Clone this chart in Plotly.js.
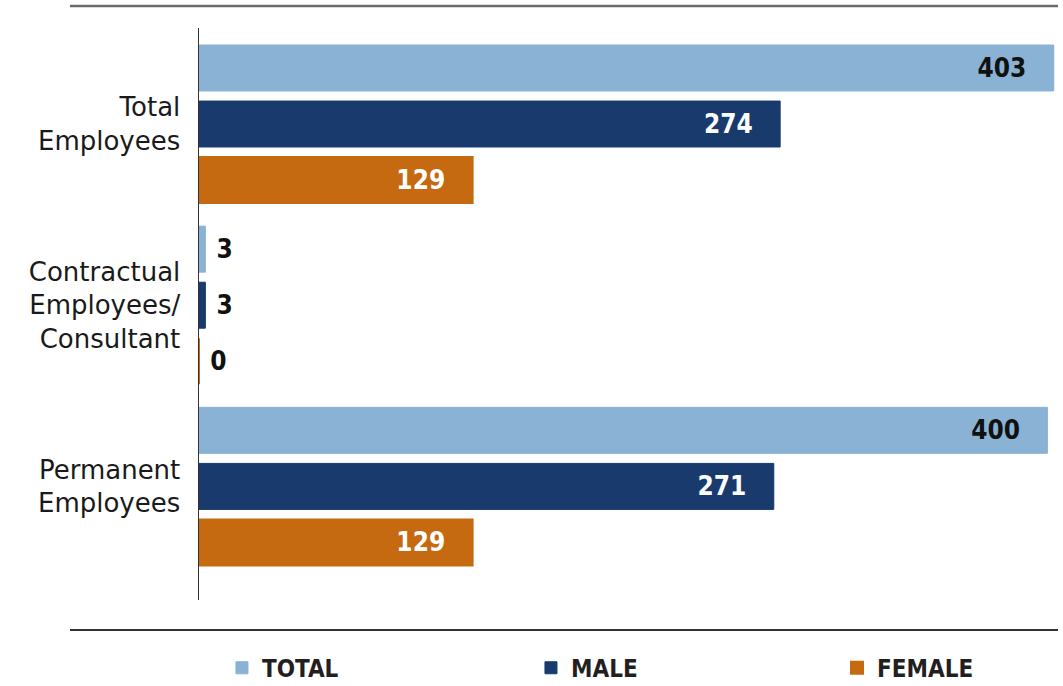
<!DOCTYPE html>
<html>
<head>
<meta charset="utf-8">
<script src="https://cdn.plot.ly/plotly-3.0.1.min.js"></script>
<style>
html,body{margin:0;padding:0;background:#fff;}
#chart{width:1063px;height:686px;}
#chart text.bartext, #chart text.legendtext{font-stretch:condensed !important;}
</style>
</head>
<body>
<div id="chart"></div>
<script>
const categories = ["Total<br>Employees", "Contractual<br>Employees/<br>Consultant", "Permanent<br>Employees"];
const seriesNames = ["TOTAL", "MALE", "FEMALE"];
const totalValues = [403, 3, 400];
const maleValues = [274, 3, 271];
const femaleValues = [129, 0, 129];

const colors = ["#89b2d5", "#183a6d", "#c56a10"];
const insideColors = ["#111111", "#ffffff", "#ffffff"];
const legendIds = ["legend", "legend2", "legend3"];
const legendX = [0.2088, 0.4995, 0.7874];
const labelFont = "DejaVu Sans Condensed, DejaVu Sans, sans-serif";
const NB = "\u00A0";

function mkTrace(name, vals, i) {
  const pos = vals.map(v => v >= 50 ? "inside" : "outside");
  const txt = vals.map(v => v >= 50 ? String(v) + NB.repeat(3) : NB + String(v));
  return {
    type: "bar", orientation: "h", name: name, legend: legendIds[i],
    y: categories, x: vals,
    marker: {color: colors[i], line: {color: colors[i], width: i === 2 ? 2 : 1}},
    text: txt, textposition: pos, insidetextanchor: "end",
    constraintext: "none", cliponaxis: false, textangle: 0,
    insidetextfont: {family: labelFont, size: 26, color: insideColors[i], weight: "bold"},
    outsidetextfont: {family: labelFont, size: 26, color: "#111111", weight: "bold"},
    hoverinfo: "x+name"
  };
}

const data = [
  mkTrace(seriesNames[0], totalValues, 0),
  mkTrace(seriesNames[1], maleValues, 1),
  mkTrace(seriesNames[2], femaleValues, 2)
];

function mkLegend(i) {
  return {
    orientation: "h", xref: "container", yref: "container",
    x: legendX[i], xanchor: "left", y: 0.026, yanchor: "middle",
    font: {family: labelFont, size: 24, color: "#231f20", weight: "bold"},
    bgcolor: "rgba(0,0,0,0)"
  };
}

const layout = {
  width: 1063, height: 686, autosize: false,
  margin: {l: 199, r: 5, t: 28, b: 86, pad: 0},
  paper_bgcolor: "#ffffff", plot_bgcolor: "#ffffff",
  barmode: "group", bargap: 0.072, bargroupgap: 0.18,
  xaxis: {range: [0, 405], showgrid: false, zeroline: false, showticklabels: false, showline: false, fixedrange: true},
  yaxis: {
    type: "category", categoryarray: categories, range: [2.627, -0.530],
    showline: true, linecolor: "#333333", linewidth: 1.5, ticks: "", showgrid: false, zeroline: false,
    tickfont: {family: "DejaVu Sans, sans-serif", size: 26, color: "#1a1a1a"},
    ticklabelstandoff: 12, fixedrange: true
  },
  showlegend: true,
  legend: mkLegend(0),
  legend2: mkLegend(1),
  legend3: mkLegend(2),
  shapes: [
    {type: "line", xref: "paper", yref: "paper", x0: -0.1502, x1: 1, y0: 1.0385, y1: 1.0385, line: {color: "#6b6b6b", width: 2.5}},
    {type: "line", xref: "paper", yref: "paper", x0: -0.1502, x1: 1, y0: -0.0524, y1: -0.0524, line: {color: "#333333", width: 2}}
  ]
};

Plotly.newPlot("chart", data, layout, {displayModeBar: false, staticPlot: true});
</script>
</body>
</html>
